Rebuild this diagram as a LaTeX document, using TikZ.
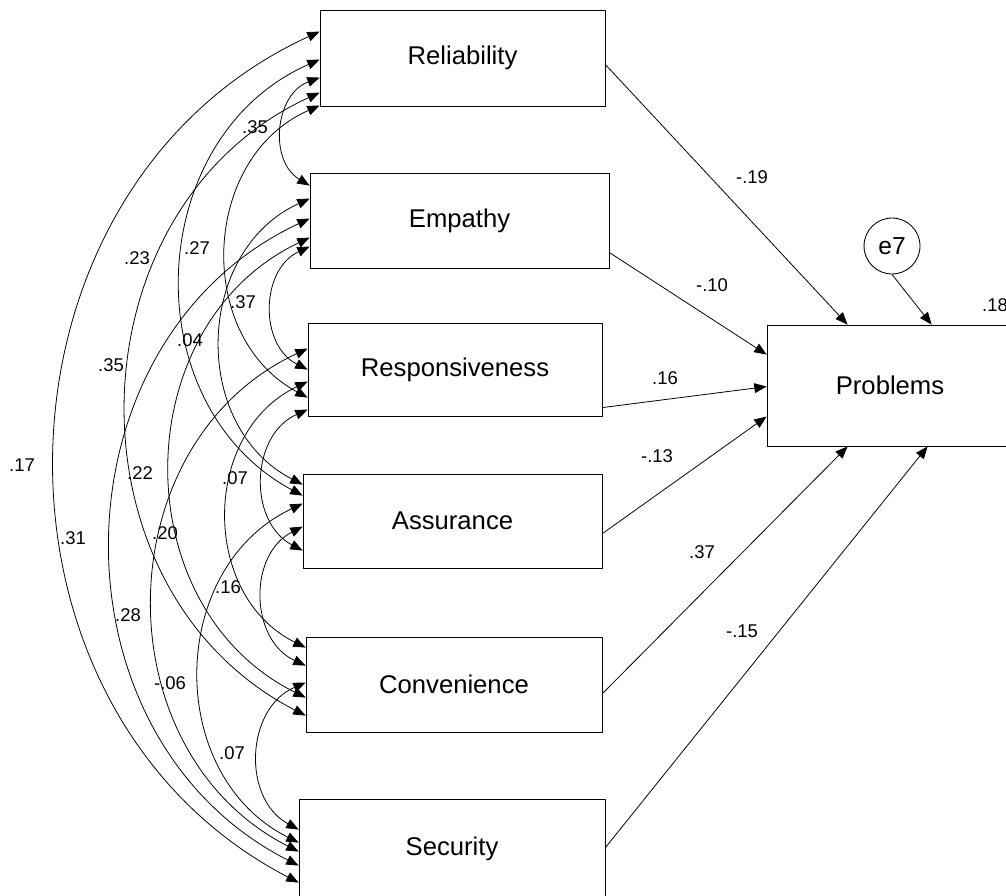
\documentclass[tikz,border=0pt]{standalone}
\usepackage{fontspec}
\setmainfont{Liberation Sans}
\usetikzlibrary{arrows.meta}

\tikzset{
  var/.style={draw, line width=0.5pt, inner sep=0pt, font=\fontsize{14.6}{17}\selectfont},
  err/.style={draw, circle, line width=0.5pt, inner sep=0pt, minimum size=1.12cm, font=\fontsize{14}{16}\selectfont},
  coef/.style={inner sep=0pt, font=\fontsize{10.5}{12}\selectfont},
  cov/.style={{Triangle[length=7pt,width=5.6pt]}-{Triangle[length=7pt,width=5.6pt]}, line width=0.45pt, bend right=64, looseness=1.13},
  reg/.style={-{Triangle[length=7pt,width=5.6pt]}, line width=0.45pt},
}

\begin{document}
\begin{tikzpicture}[x=0.02cm,y=-0.02cm,line join=round]
	\useasboundingbox (0,0) rectangle (1006,895);
	% observed variables
	\node[var, minimum width=5.7cm, minimum height=1.92cm] (rel) at (462.5,58) {Reliability};
	\node[var, minimum width=5.98cm, minimum height=1.9cm] (emp) at (459.5,220.5) {Empathy};
	\node[var, minimum width=5.88cm, minimum height=1.86cm] (resp) at (455,369.5) {Responsiveness};
	\node[var, minimum width=5.98cm, minimum height=1.88cm] (ass) at (452.5,521) {Assurance};
	\node[var, minimum width=5.92cm, minimum height=1.9cm] (conv) at (454,684.5) {Convenience};
	\node[var, minimum width=6.12cm, minimum height=2cm] (sec) at (452,849) {Security};
	\node[var, minimum width=4.92cm, minimum height=2.42cm] (prob) at (890,385.5) {Problems};
	\node[err] (e7) at (892,246) {e7};
	% correlations
	\foreach \a/\ya/\b/\yb in {rel/68/emp/13, rel/96/resp/75, rel/50/ass/22, rel/83/conv/79, rel/22/sec/84,
		emp/74/resp/47, emp/26/ass/11, emp/65/conv/61, emp/46/sec/67,
		resp/87/ass/77, resp/59/conv/11, resp/26/sec/53,
		ass/53/conv/29, ass/30/sec/44, conv/46/sec/31}
		\draw[cov] ([shift={(0,\ya)}]\a.north west) to ([shift={(0,\yb)}]\b.north west);
	% regressions
	\draw[reg] ([shift={(0,55)}]rel.north east) -- ([shift={(81,0)}]prob.north west);
	\draw[reg] ([shift={(0,80)}]emp.north east) -- ([shift={(0,30)}]prob.north west);
	\draw[reg] ([shift={(0,85)}]resp.north east) -- ([shift={(0,62)}]prob.north west);
	\draw[reg] ([shift={(0,60)}]ass.north east) -- ([shift={(0,92)}]prob.north west);
	\draw[reg] ([shift={(0,57)}]conv.north east) -- ([shift={(81,0)}]prob.south west);
	\draw[reg] ([shift={(0,49)}]sec.north east) -- ([shift={(161,0)}]prob.south west);
	\draw[reg] (e7.south) -- ([shift={(165,0)}]prob.north west);
	% coefficients
	\foreach \x/\y/\t [count=\i] in {255/127/.35, 197/248/.27, 137/258/.23, 243/302/.37, 190/340/.04,
		111/365/.35, 22/465/.17, 140/473/.22, 235/478/.07, 73/538/.31, 165/533/.20,
		128/615/.28, 228/587/.16, 170/683/-.06, 232/753/.07,
		752/177/-.19, 712/285/-.10, 665/378/.16, 657/456/-.13, 702/552/.37, 742/631/-.15, 995/305/.18}
		\node[coef] (k\i) at (\x,\y) {\t};
\end{tikzpicture}
\end{document}
